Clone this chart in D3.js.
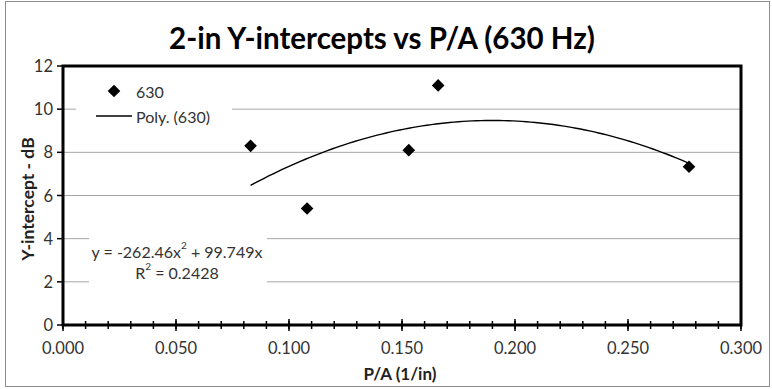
<!DOCTYPE html>
<html>
<head>
<meta charset="utf-8">
<script src="https://cdnjs.cloudflare.com/ajax/libs/d3/7.8.5/d3.min.js"></script>
<style>
  body { margin: 0; background: #fff; }
  svg { display: block; font-family: Lato, "Open Sans", sans-serif; }
</style>
</head>
<body>
<div id="chart"></div>
<script>
// data
const pa = [0.083, 0.108, 0.153, 0.166, 0.277];
const yIntercept = [8.3, 5.4, 8.1, 11.1, 7.33];
const trendCoef = [-262.46, 99.749]; // y = a x^2 + b x
const xTicks = [0, 0.05, 0.1, 0.15, 0.2, 0.25, 0.3];
const yTicks = [0, 2, 4, 6, 8, 10, 12];

const width = 772, height = 389;
const margin = { top: 66, right: 31, bottom: 64, left: 63 };

const svg = d3.select("#chart").append("svg")
    .attr("width", width)
    .attr("height", height);

// outer chart border
svg.append("rect")
    .attr("x", 5.5).attr("y", 1.5)
    .attr("width", 764).attr("height", 385)
    .attr("fill", "#fff").attr("stroke", "#8c8c8c");

const x = d3.scaleLinear().domain([0, 0.3]).range([margin.left, width - margin.right]);
const y = d3.scaleLinear().domain([0, 12]).range([height - margin.bottom, margin.top]);

// gridlines
svg.append("g").selectAll("line")
    .data(yTicks.filter(d => d > 0 && d < 12))
    .join("line")
    .attr("x1", x(0)).attr("x2", x(0.3))
    .attr("y1", d => y(d)).attr("y2", d => y(d))
    .attr("stroke", "#a6a6a6").attr("stroke-width", 1);

// legend and equation boxes hide the gridlines behind them
svg.append("rect").attr("x", 76).attr("y", 78).attr("width", 156).attr("height", 50).attr("fill", "#fff");
svg.append("rect").attr("x", 89).attr("y", 232).attr("width", 178).attr("height", 56).attr("fill", "#fff");

// trendline
const trend = d3.range(pa[0], pa[4] + 0.0001, 0.002).map(v => [v, trendCoef[0] * v * v + trendCoef[1] * v]);
svg.append("path")
    .datum(trend)
    .attr("fill", "none")
    .attr("stroke", "#000")
    .attr("stroke-width", 1.4)
    .attr("d", d3.line().x(d => x(d[0])).y(d => y(d[1])));

// points
const diamond = d3.symbol().type(d3.symbolSquare).size(80);
svg.append("g").selectAll("path")
    .data(pa.map((v, i) => [v, yIntercept[i]]))
    .join("path")
    .attr("d", diamond)
    .attr("transform", d => `translate(${x(d[0])},${y(d[1])}) rotate(45)`)
    .attr("fill", "#000");

// plot frame
svg.append("rect")
    .attr("x", x(0)).attr("y", y(12))
    .attr("width", x(0.3) - x(0)).attr("height", y(0) - y(12))
    .attr("fill", "none").attr("stroke", "#000").attr("stroke-width", 3);

// x axis ticks
const xAxis = svg.append("g");
xAxis.selectAll("line.minor")
    .data(d3.range(0, 31).map(i => i / 100))
    .join("line")
    .attr("x1", d => x(d)).attr("x2", d => x(d))
    .attr("y1", y(0) - 4).attr("y2", y(0) + 4)
    .attr("stroke", "#000").attr("stroke-width", 1.5);
xAxis.selectAll("line.major")
    .data(xTicks)
    .join("line")
    .attr("x1", d => x(d)).attr("x2", d => x(d))
    .attr("y1", y(0) - 6).attr("y2", y(0) + 6)
    .attr("stroke", "#000").attr("stroke-width", 1.5);
xAxis.selectAll("text")
    .data(xTicks)
    .join("text")
    .attr("x", d => x(d)).attr("y", 348)
    .attr("text-anchor", "middle").attr("dominant-baseline", "central")
    .attr("font-size", 16.5).attr("fill", "#333")
    .text(d3.format(".3f"));

// y axis ticks
const yAxis = svg.append("g");
yAxis.selectAll("line")
    .data(yTicks)
    .join("line")
    .attr("x1", x(0) - 6).attr("x2", x(0))
    .attr("y1", d => y(d)).attr("y2", d => y(d))
    .attr("stroke", "#000").attr("stroke-width", 1.5);
yAxis.selectAll("text")
    .data(yTicks)
    .join("text")
    .attr("x", 53).attr("y", d => y(d))
    .attr("text-anchor", "end").attr("dominant-baseline", "central")
    .attr("font-size", 16.5).attr("fill", "#333")
    .text(d => d);

// titles
svg.append("text")
    .attr("x", 382).attr("y", 37)
    .attr("text-anchor", "middle").attr("dominant-baseline", "central")
    .attr("font-size", 29.5).attr("font-weight", "bold").attr("fill", "#000")
    .text("2-in Y-intercepts vs P/A (630 Hz)");
svg.append("text")
    .attr("x", 400).attr("y", 373)
    .attr("text-anchor", "middle").attr("dominant-baseline", "central")
    .attr("font-size", 17).attr("font-weight", "bold").attr("fill", "#222")
    .text("P/A (1/in)");
svg.append("text")
    .attr("transform", "translate(27,199) rotate(-90)")
    .attr("text-anchor", "middle").attr("dominant-baseline", "central")
    .attr("font-size", 17.5).attr("font-weight", "bold").attr("fill", "#222")
    .text("Y-intercept - dB");

// legend
svg.append("path")
    .attr("d", diamond)
    .attr("transform", "translate(114,91) rotate(45)")
    .attr("fill", "#000");
svg.append("text")
    .attr("x", 136).attr("y", 91)
    .attr("dominant-baseline", "central")
    .attr("font-size", 16).attr("fill", "#333")
    .text("630");
svg.append("line")
    .attr("x1", 96).attr("x2", 132).attr("y1", 116).attr("y2", 116)
    .attr("stroke", "#000").attr("stroke-width", 1.4);
svg.append("text")
    .attr("x", 136).attr("y", 116)
    .attr("dominant-baseline", "central")
    .attr("font-size", 16).attr("fill", "#333")
    .text("Poly. (630)");

// trendline equation
const eq = svg.append("text")
    .attr("x", 177).attr("y", 251)
    .attr("text-anchor", "middle").attr("dominant-baseline", "central")
    .attr("font-size", 16).attr("fill", "#333");
eq.append("tspan").text(`y = ${trendCoef[0]}x`);
eq.append("tspan").attr("baseline-shift", "super").attr("font-size", 10).text("2");
eq.append("tspan").text(` + ${trendCoef[1]}x`);

const r2 = svg.append("text")
    .attr("x", 177).attr("y", 272)
    .attr("text-anchor", "middle").attr("dominant-baseline", "central")
    .attr("font-size", 16).attr("fill", "#333");
r2.append("tspan").text("R");
r2.append("tspan").attr("baseline-shift", "super").attr("font-size", 10).text("2");
r2.append("tspan").text(" = 0.2428");
</script>
</body>
</html>
